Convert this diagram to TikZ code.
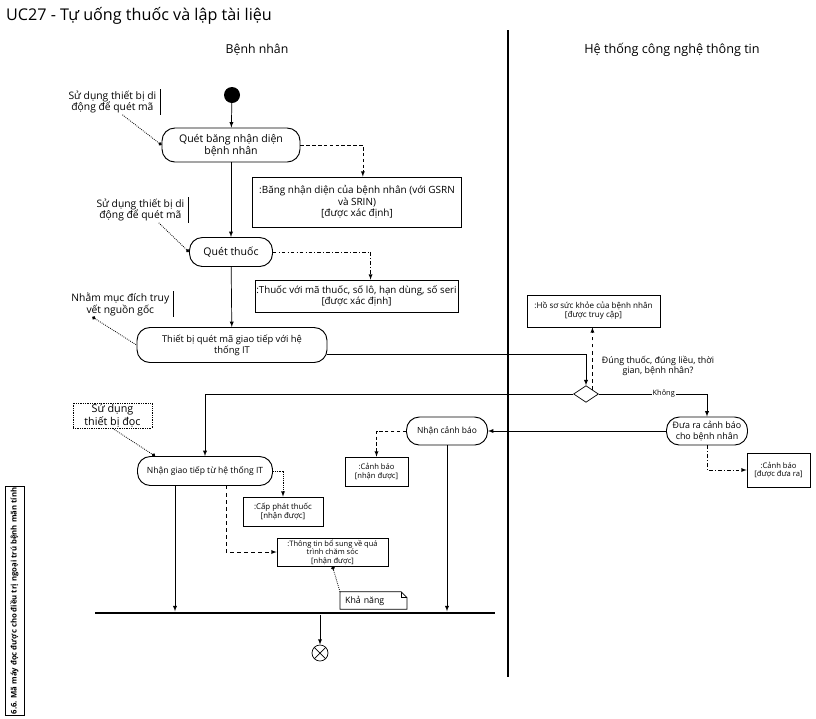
\documentclass[tikz,border=0pt]{standalone}
\usepackage{fontspec}
\setmainfont{Open Sans}
\usetikzlibrary{shapes.geometric,arrows.meta}

\newcommand{\fs}[1]{\fontsize{#1}{\dimexpr#1pt*115/100\relax}\selectfont}

\tikzset{
  action/.style={draw,rectangle,rounded corners=11pt,line width=0.8pt,align=center,inner sep=1pt},
  object/.style={draw,rectangle,line width=0.6pt,align=center,inner sep=1pt},
  note/.style={align=center,inner xsep=3pt,inner ysep=1pt,
    append after command={(\tikzlastnode.north east) edge[line width=0.5pt] (\tikzlastnode.south east)}},
  flow/.style={-latex,line width=0.6pt},
  anchorline/.style={densely dotted,line width=0.7pt},
}

\begin{document}
\begin{tikzpicture}[x=0.03cm,y=-0.03cm]
\fill[white] (0,0) rectangle (816,718);
\useasboundingbox (0,0) rectangle (816,718);

\node (T)[anchor=west,font=\fs{13.8}] at (2,16) {UC27 - Tự uống thuốc và lập tài liệu};
\node (L1)[font=\fs{10.5}] at (257,50) {Bệnh nhân};
\node (L2)[font=\fs{10.8}] at (672,50) {Hệ thống công nghệ thông tin};
\draw[line width=1.4pt] (508,30) -- (508,677);

\node (S)[circle,fill=black,minimum size=0.48cm,inner sep=0] at (232,95) {};

\begin{scope}[every node/.style={action}]
    \node (A)[minimum width=4.14cm,minimum height=1.02cm,font=\fs{9}] at (231,145) {Quét băng nhận diện\\bệnh nhân};
    \node (B)[minimum width=2.49cm,minimum height=0.87cm,font=\fs{9}] at (231,252) {Quét thuốc};
    \node (C)[minimum width=5.7cm,minimum height=1.05cm,font=\fs{8}] at (232,345) {Thiết bị quét mã giao tiếp với hệ\\thống IT};
    \node (E)[minimum width=4.05cm,minimum height=0.87cm,font=\fs{7.3}] at (205,471) {Nhận giao tiếp từ hệ thống IT};
    \node (F)[minimum width=2.43cm,minimum height=0.84cm,font=\fs{7.6}] at (707,431) {Đưa ra cảnh báo\\cho bệnh nhân};
    \node (G)[minimum width=2.43cm,minimum height=0.84cm,font=\fs{7.2}] at (447,431) {Nhận cảnh báo};
\end{scope}

\begin{scope}[every node/.style={object}]
    \node (O1)[minimum width=6.27cm,minimum height=1.5cm,font=\fs{8.5}] at (357,202) {:Băng nhận diện của bệnh nhân (với GSRN\\và SRIN)\\{[được xác định]}};
    \node (O2)[minimum width=6.09cm,minimum height=0.96cm,font=\fs{8.3}] at (356.5,296) {:Thuốc với mã thuốc, số lô, hạn dùng, số seri\\{[được xác định]}};
    \node (O3)[minimum width=3.99cm,minimum height=0.96cm,font=\fs{6.9}] at (593.5,311) {:Hồ sơ sức khỏe của bệnh nhân\\{[được truy cập]}};
    \node (O4)[minimum width=1.89cm,minimum height=1.02cm,font=\fs{6.5}] at (778.5,470) {:Cảnh báo\\{[được đưa ra]}};
    \node (O5)[minimum width=1.89cm,minimum height=0.87cm,font=\fs{6.5}] at (376.5,471.5) {:Cảnh báo\\{[nhận được]}};
    \node (O6)[minimum width=2.4cm,minimum height=0.87cm,font=\fs{6.7}] at (283,511.5) {:Cấp phát thuốc\\{[nhận được]}};
    \node (O7)[minimum width=3.33cm,minimum height=0.84cm,inner ysep=0.3pt,font=\fs{6.4}] at (332.5,552) {:Thông tin bổ sung về quá\\trình chăm sóc\\{[nhận được]}};
\end{scope}

\begin{scope}[every node/.style={note,font=\fs{8.8}}]
    \node (N1)[anchor=east] at (160,102) {Sử dụng thiết bị di\\động để quét mã};
    \node (N2)[anchor=east] at (188,210) {Sử dụng thiết bị di\\động để quét mã};
    \node (N3)[anchor=east] at (173,304) {Nhằm mục đích truy\\vết nguồn gốc};
\end{scope}
\node (N4)[draw,densely dotted,line width=0.5pt,align=center,minimum width=2.37cm,minimum height=0.75cm,inner sep=0.5pt,font=\fs{9.2}] at (112.5,415.5) {Sử dụng\\thiết bị đọc};
\node (N5)[font=\fs{7.5},minimum width=2cm,minimum height=0.51cm,inner sep=1pt,text width=1.7cm,align=left] at (373.5,600.5) {Khả năng};
\draw[line width=0.6pt] (N5.south west) -- (N5.north west) -- ([xshift=-5pt]N5.north east) -- ([yshift=-5pt]N5.north east) -- (N5.south east) -- cycle;
\draw[line width=0.5pt] ([xshift=-5pt]N5.north east) -- ([xshift=-5pt,yshift=-5pt]N5.north east) -- ([yshift=-5pt]N5.north east);

\node (D)[diamond,draw,line width=0.6pt,minimum width=0.75cm,minimum height=0.5cm,inner sep=0] at (586,394) {};
\node (Q)[align=center,font=\fs{7.6}] at (658,366) {Đúng thuốc, đúng liều, thời\\gian, bệnh nhân?};
\node (J)[rectangle,fill=black,minimum width=12cm,minimum height=2.5pt,inner sep=0] at (295,613) {};
\node (X)[circle,draw,line width=0.6pt,minimum size=0.48cm,inner sep=0,
  path picture={\draw[line width=0.6pt] (path picture bounding box.north west) -- (path picture bounding box.south east)
  (path picture bounding box.north east) -- (path picture bounding box.south west);}] at (320,653) {};

\node (V)[draw,line width=0.7pt,rotate=90,minimum width=6.84cm,minimum height=0.57cm,inner sep=1pt,font=\bfseries\fs{6.6}] at (14.5,601) {6.6. Mã máy đọc được cho điều trị ngoại trú bệnh mãn tính};

\begin{scope}[every edge/.style={draw,flow}]
    \path (S) edge (A);
    \path (A) edge (B);
    \path (B) edge (C);
    \path (F) edge (G);
\end{scope}
\draw[flow] ([yshift=-8pt]C.east) -| (D.north);
\draw[flow] (D.west) -| (E.north);
\draw[flow] (D.east) -| node[pos=0.3,fill=white,inner sep=1pt,font=\fs{6.3}] (K) {Không} (F.north);
\draw[flow,dashed] (D.north east) -- (D.north east |- O3.south);

\draw[flow,densely dashed] (A.east) -| ([xshift=5pt]O1.north);
\draw[flow,dash dot] (B.east) -| ([xshift=12pt]O2.north);
\draw[flow,dash dot] (F.south) |- (O4.west);
\draw[flow,densely dashed] (G.west) -| (O5.north);
\draw[flow,densely dotted] (E.east) -| (O6.north);
\coordinate (e1) at ([xshift=-0.9cm]E.south);
\coordinate (e2) at ([xshift=0.63cm]E.south);
\draw[flow,dashed] (e2) |- (O7.west);
\draw[flow] (e1) -- (e1 |- J.north);
\draw[flow] (G.south) -- (G.south |- J.north);
\draw[flow] (X |- J.south) -- (X.north);

\draw[anchorline,-{Circle[length=3pt]}] ([xshift=0.3cm]N1.south) -- (A.west);
\draw[anchorline,-{Circle[length=3pt]}] ([xshift=0.55cm]N2.south) -- (B.west);
\draw[anchorline,{Circle[length=3pt]}-] ([xshift=-0.84cm]N3.south) -- (C.west);
\draw[anchorline,-{Circle[length=3pt]}] (N4.south) -- ([xshift=-1.5cm]E.north);
\draw[anchorline,-{Circle[length=3pt]}] (N5.north west) -- (O7.south);
\end{tikzpicture}
\end{document}
